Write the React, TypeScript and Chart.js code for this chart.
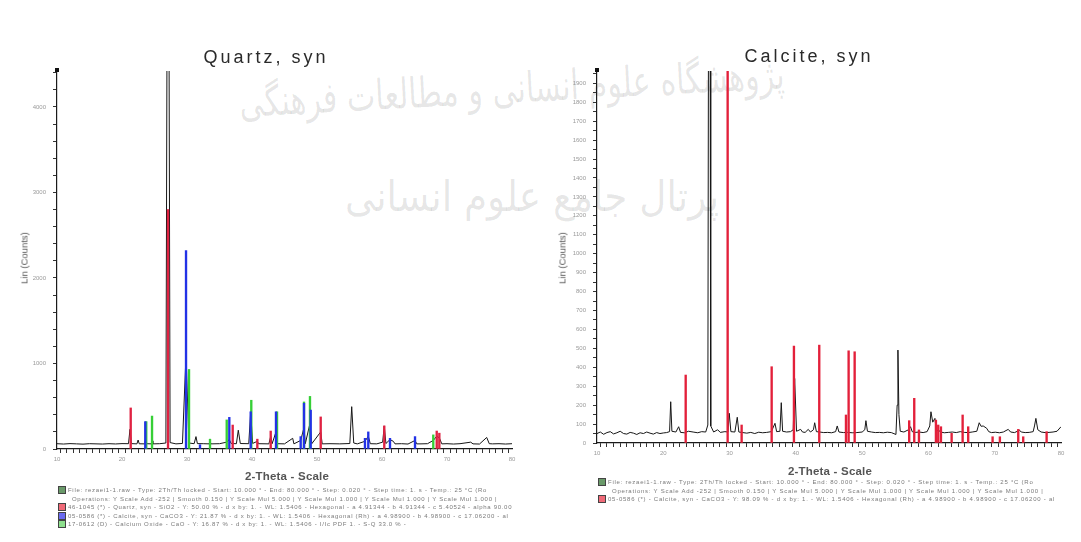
import React, { useEffect, useRef } from 'react';
import { Chart, registerables } from 'chart.js';

Chart.register(...registerables);

// ---------- data: left pattern (Quartz, syn) ----------
const leftScan: [number, number][] = [
  [10, 62], [11, 58], [12, 63], [13, 60], [14, 57], [15, 62], [16, 60], [17, 58], [18, 62], [19, 59], [20, 63],
  [21.0, 62], [21.23, 230], [21.45, 63], [22.3, 60], [22.48, 105], [22.65, 61], [23.5, 60], [23.6, 100], [23.75, 62],
  [24.5, 60], [24.62, 95], [24.75, 60], [25.8, 62], [26.75, 70], [26.92, 4700], [27.24, 4700], [27.4, 75], [28.3, 60],
  [29.3, 65], [29.85, 1100], [30.3, 70], [31.1, 62], [31.38, 145], [31.6, 63], [32.5, 62], [33.4, 60], [33.54, 90],
  [33.7, 60], [35, 62], [36.1, 80], [36.5, 110], [36.8, 64], [37.6, 62], [37.89, 220], [38.2, 64], [39.5, 62],
  [39.8, 435], [40.1, 65], [40.82, 90], [41.0, 62], [42.6, 60], [42.88, 150], [43.1, 62], [43.69, 200], [43.9, 62],
  [45, 60], [46.26, 125], [46.45, 60], [47.49, 100], [48.0, 250], [48.2, 62], [48.92, 300], [49.2, 62], [50.57, 200],
  [50.8, 60], [52, 62], [53.5, 60], [55.05, 64], [55.34, 495], [55.65, 70], [56.2, 60], [57.38, 90], [57.89, 150],
  [58.2, 62], [59.2, 60], [60.1, 80], [60.35, 270], [60.6, 64], [61.23, 110], [61.74, 90], [62.0, 60], [63, 62],
  [64, 58], [65.08, 100], [65.35, 60], [66, 60], [67.0, 62], [67.89, 100], [68.42, 150], [68.82, 130], [69.2, 60],
  [70, 62], [71, 58], [72, 62], [73.65, 80], [74, 60], [75, 58], [76.11, 135], [76.5, 62], [77, 60], [78, 62],
  [79, 58], [80, 62],
];
const quartzPos = [21.34, 27.08, 37.03, 40.82, 42.88, 50.57, 60.35, 68.42, 68.82];
const quartzInt = [480, 2800, 280, 115, 210, 375, 270, 210, 185];
const calcitePos = [23.58, 29.85, 32.0, 36.51, 39.8, 43.69, 47.49, 48.0, 49.03, 57.38, 57.89, 61.23, 65.08];
const calciteInt = [320, 2320, 50, 370, 435, 435, 145, 535, 455, 125, 200, 125, 145];
const limePos = [23.73, 24.62, 30.31, 33.54, 36.11, 39.89, 43.85, 48.0, 48.92, 67.89];
const limeInt = [320, 385, 930, 115, 340, 570, 435, 550, 615, 165];

// ---------- data: right pattern (Calcite, syn) ----------
const rightScan: [number, number][] = [
  [10, 50], [10.5, 58], [11, 46], [11.5, 55], [12, 60], [12.5, 48], [13, 54], [13.5, 62], [14, 50], [14.5, 47],
  [15, 56], [15.5, 52], [16, 45], [16.5, 54], [17, 50], [17.5, 58], [18, 52], [18.5, 47], [19, 55], [19.5, 50],
  [20, 53], [20.5, 55], [20.95, 60], [21.12, 218], [21.3, 62], [21.9, 58], [22.32, 86], [22.6, 56], [23.2, 54],
  [23.8, 62], [24.5, 58], [25.2, 54], [25.8, 60], [26.4, 58], [26.72, 95], [26.82, 2300], [27.06, 2300], [27.16, 90],
  [27.6, 58], [28.2, 70], [28.6, 56], [29.3, 60], [29.75, 58], [29.95, 157], [30.2, 60], [30.8, 58], [31.16, 136],
  [31.4, 58], [32, 55], [32.6, 52], [33.2, 56], [33.8, 50], [34.4, 57], [35, 54], [35.6, 56], [36.3, 60],
  [36.85, 104], [37.1, 60], [37.6, 62], [37.8, 213], [38.0, 62], [38.6, 58], [39.2, 60], [39.6, 70], [39.82, 341],
  [40.1, 62], [40.72, 72], [41.0, 58], [41.4, 56], [41.87, 72], [42.2, 58], [42.65, 70], [42.84, 107], [43.1, 60],
  [43.6, 58], [44.2, 55], [44.8, 56], [45.4, 54], [46.0, 60], [46.24, 90], [46.5, 58], [47.2, 55], [47.8, 56],
  [48.5, 54], [49.2, 55], [50.0, 58], [50.4, 70], [50.57, 118], [50.8, 62], [51.4, 58], [52, 55], [52.6, 56],
  [53.2, 54], [53.8, 57], [54.4, 55], [55.1, 45], [55.28, 200], [55.4, 491], [55.55, 150], [55.75, 62], [56.3, 58],
  [57.0, 70], [57.3, 86], [57.55, 60], [58, 56], [58.6, 58], [59.2, 55], [59.8, 60], [60.2, 90], [60.38, 165],
  [60.65, 110], [60.98, 130], [61.2, 60], [61.5, 70], [61.8, 58], [62.4, 54], [63.0, 56], [63.6, 58], [64.2, 55],
  [64.8, 60], [65.4, 56], [66, 55], [66.6, 58], [67.3, 62], [67.66, 107], [67.95, 88], [68.26, 90], [68.78, 78],
  [69.1, 60], [69.5, 55], [70.1, 57], [70.7, 54], [71.3, 58], [72.04, 72], [72.4, 58], [73.0, 55], [73.4, 62],
  [73.7, 69], [74.0, 58], [74.6, 55], [75.2, 56], [75.8, 60], [76.0, 90], [76.21, 130], [76.5, 70], [77.0, 58],
  [77.6, 55], [78.2, 56], [78.8, 58], [79.4, 62], [80, 86],
];
const calcite2Pos = [23.38, 29.71, 31.82, 36.35, 39.71, 43.53, 47.56, 47.96, 48.87, 57.1, 57.86, 58.57, 61.13, 61.48,
  61.89, 63.5, 65.16, 66.0, 69.68, 70.78, 73.55, 74.3, 77.83];
const calcite2Int = [359, 2000, 95, 403, 512, 517, 148, 487, 482, 118, 236, 69, 121, 95, 86, 51, 148, 86, 33, 33, 72,
  33, 60];

const leftLegend = [
  { c: '#6a9a6a', t: 'File: rezaei1-1.raw - Type: 2Th/Th locked - Start: 10.000 ° - End: 80.000 ° - Step: 0.020 ° - Step time: 1. s - Temp.: 25 °C (Ro' },
  { c: '', t: 'Operations: Y Scale Add -252 | Smooth 0.150 | Y Scale Mul 5.000 | Y Scale Mul 1.000 | Y Scale Mul 1.000 | Y Scale Mul 1.000 |' },
  { c: '#f06a78', t: '46-1045 (*) - Quartz, syn - SiO2 - Y: 50.00 % - d x by: 1. - WL: 1.5406 - Hexagonal - a 4.91344 - b 4.91344 - c 5.40524 - alpha 90.00' },
  { c: '#6a6af0', t: '05-0586 (*) - Calcite, syn - CaCO3 - Y: 21.87 % - d x by: 1. - WL: 1.5406 - Hexagonal (Rh) - a 4.98900 - b 4.98900 - c 17.06200 - al' },
  { c: '#8ee08e', t: '17-0612 (D) - Calcium Oxide - CaO - Y: 16.87 % - d x by: 1. - WL: 1.5406 - I/Ic PDF 1. - S-Q 33.0 % -' },
];
const rightLegend = [
  { c: '#6a9a6a', t: 'File: rezaei1-1.raw - Type: 2Th/Th locked - Start: 10.000 ° - End: 80.000 ° - Step: 0.020 ° - Step time: 1. s - Temp.: 25 °C (Ro' },
  { c: '', t: 'Operations: Y Scale Add -252 | Smooth 0.150 | Y Scale Mul 5.000 | Y Scale Mul 1.000 | Y Scale Mul 1.000 | Y Scale Mul 1.000 |' },
  { c: '#f06a78', t: '05-0586 (*) - Calcite, syn - CaCO3 - Y: 98.09 % - d x by: 1. - WL: 1.5406 - Hexagonal (Rh) - a 4.98900 - b 4.98900 - c 17.06200 - al' },
];

const FONT = "'Liberation Sans', Arial, sans-serif";

const axisCap = {
  id: 'axisCap',
  afterDraw(chart: any) {
    const { ctx, chartArea } = chart;
    ctx.save();
    ctx.fillStyle = '#111';
    ctx.fillRect(chartArea.left - 2, chartArea.top - 3, 4, 4);
    ctx.restore();
  },
};

function sticks(pos: number[], int: number[], color: string, order: number) {
  return {
    type: 'bar',
    data: pos.map((x, i) => ({ x, y: int[i] })),
    backgroundColor: color,
    borderWidth: 0,
    barThickness: 1.7,
    grouped: false,
    order,
  };
}

function scan(points: [number, number][]) {
  return {
    type: 'line',
    data: points.map(([x, y]) => ({ x, y })),
    borderColor: '#161616',
    borderWidth: 1,
    pointRadius: 0,
    tension: 0,
    order: 10,
  };
}

function makeOptions(yMax: number, yStep: number, labelEvery: number, padRight: number, padBottom: number) {
  return {
    responsive: false,
    animation: false,
    devicePixelRatio: 1,
    layout: { padding: { left: 0, top: 71, right: padRight, bottom: padBottom } },
    plugins: { legend: { display: false }, tooltip: { enabled: false }, title: { display: false } },
    scales: {
      x: {
        type: 'linear',
        min: 10,
        max: 80,
        offset: false,
        afterFit: (s: any) => { s.height = 30; },
        afterBuildTicks: (s: any) => {
          const t = [];
          for (let v = 10; v <= 80; v += 1) t.push({ value: v });
          s.ticks = t;
        },
        ticks: {
          autoSkip: false,
          maxRotation: 0,
          padding: 3,
          color: '#9a9a9a',
          font: { size: 6, family: FONT },
          callback: (v: number) => (Math.round(v) % 10 === 0 ? String(Math.round(v)) : ''),
        },
        grid: { drawOnChartArea: false, drawTicks: true, tickLength: 4, tickColor: '#333', tickWidth: 1 },
        border: { display: true, color: '#1a1a1a', width: 1.2 },
      },
      y: {
        type: 'linear',
        min: 0,
        max: yMax,
        afterFit: (s: any) => { s.width = 57; },
        afterBuildTicks: (s: any) => {
          const t = [];
          for (let v = 0; v <= yMax; v += yStep) t.push({ value: v });
          s.ticks = t;
        },
        ticks: {
          autoSkip: false,
          padding: 7,
          color: '#9a9a9a',
          font: { size: 6, family: FONT },
          callback: (v: number) => (Math.round(v) % labelEvery === 0 ? String(Math.round(v)) : ''),
        },
        grid: { drawOnChartArea: false, drawTicks: true, tickLength: 4, tickColor: '#333', tickWidth: 1 },
        border: { display: true, color: '#1a1a1a', width: 1.2 },
      },
    },
  };
}

function ChartCanvas({ left, width, config }: { left: number; width: number; config: () => any }) {
  const ref = useRef<HTMLCanvasElement | null>(null);
  useEffect(() => {
    if (!ref.current) return;
    const chart = new Chart(ref.current, config());
    return () => chart.destroy();
  }, []);
  return (
    <canvas
      ref={ref}
      width={width}
      height={542}
      style={{ position: 'absolute', left, top: 0, width, height: 542, display: 'block' }}
    />
  );
}

function Legend({ left, top, spacing, lines }: { left: number; top: number; spacing: number; lines: { c: string; t: string }[] }) {
  return (
    <div style={{ position: 'absolute', left, top, fontFamily: FONT, fontSize: 6, color: '#7a7a7a', letterSpacing: spacing, lineHeight: '8.5px', whiteSpace: 'nowrap' }}>
      {lines.map((l, i) => (
        <div key={i} style={{ display: 'flex', alignItems: 'center', height: 8.5 }}>
          <span style={{ display: 'inline-block', width: 6, height: 6, marginRight: 2, background: l.c || 'transparent', border: l.c ? '1px solid #444' : '1px solid transparent' }} />
          <span style={{ marginLeft: l.c ? 0 : 4 }}>{l.t}</span>
        </div>
      ))}
    </div>
  );
}

const textBase: React.CSSProperties = { position: 'absolute', fontFamily: FONT, whiteSpace: 'nowrap' };

export default function App() {
  const leftConfig = () => ({
    type: 'bar',
    data: {
      datasets: [
        sticks(calcitePos, calciteInt, '#2232e6', 0),
        sticks(quartzPos, quartzInt, '#e02242', 1),
        sticks(limePos, limeInt, '#36cf36', 2),
        scan(leftScan),
      ],
    },
    options: makeOptions(4420, 200, 1000, 28, 63),
    plugins: [axisCap],
  });
  const rightConfig = () => ({
    type: 'bar',
    data: { datasets: [sticks(calcite2Pos, calcite2Int, '#e3203a', 0), scan(rightScan)] },
    options: makeOptions(1965, 50, 100, 20, 69),
    plugins: [axisCap],
  });

  return (
    <div style={{ position: 'absolute', left: 0, top: 0, width: 1081, height: 542, background: '#fff', overflow: 'hidden' }}>
      {/* watermark */}
      <div style={{ ...textBase, left: 238, top: 78, fontFamily: "'DejaVu Sans', sans-serif", fontSize: 42, color: 'rgba(0,0,0,0.1)', transform: 'rotate(-3deg) scaleX(0.72)', transformOrigin: 'left top', direction: 'rtl' }}>
        پژوهشگاه علوم انسانی و مطالعات فرهنگی
      </div>
      <div style={{ ...textBase, left: 345, top: 172, fontFamily: "'DejaVu Sans', sans-serif", fontSize: 42, color: 'rgba(0,0,0,0.1)', transform: 'scaleX(0.89)', transformOrigin: 'left top', direction: 'rtl' }}>
        پرتال جامع علوم انسانی
      </div>

      <ChartCanvas left={0} width={540} config={leftConfig} />
      <ChartCanvas left={540} width={541} config={rightConfig} />

      <div style={{ ...textBase, left: 266, top: 57, transform: 'translate(-50%, -50%)', fontSize: 18, letterSpacing: 3, color: '#2a2a2a' }}>Quartz, syn</div>
      <div style={{ ...textBase, left: 809, top: 56, transform: 'translate(-50%, -50%)', fontSize: 18, letterSpacing: 3, color: '#2a2a2a' }}>Calcite, syn</div>

      <div style={{ ...textBase, left: 24, top: 258, transform: 'translate(-50%, -50%) rotate(-90deg)', fontSize: 9.5, color: '#555' }}>Lin (Counts)</div>
      <div style={{ ...textBase, left: 562, top: 258, transform: 'translate(-50%, -50%) rotate(-90deg)', fontSize: 9.5, color: '#555' }}>Lin (Counts)</div>

      <div style={{ ...textBase, left: 287, top: 476, transform: 'translate(-50%, -50%)', fontSize: 11.5, color: '#555', fontWeight: 'bold', letterSpacing: 0.2 }}>2-Theta - Scale</div>
      <div style={{ ...textBase, left: 830, top: 471, transform: 'translate(-50%, -50%)', fontSize: 11.5, color: '#555', fontWeight: 'bold', letterSpacing: 0.2 }}>2-Theta - Scale</div>

      <Legend left={58} top={486} spacing={0.7} lines={leftLegend} />
      <Legend left={598} top={478} spacing={0.75} lines={rightLegend} />
    </div>
  );
}
